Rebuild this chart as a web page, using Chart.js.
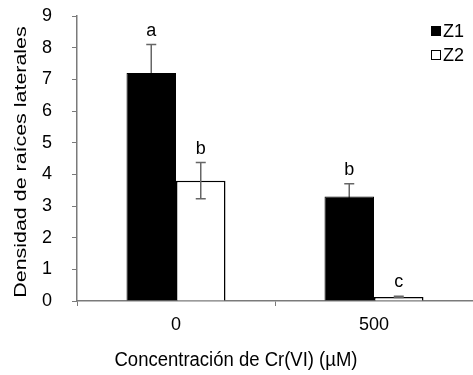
<!DOCTYPE html>
<html>
<head>
<meta charset="utf-8">
<script src="https://cdn.jsdelivr.net/npm/chart.js@4.4.1/dist/chart.umd.min.js"></script>
<style>
  html, body { margin: 0; padding: 0; background: #fff; }
  canvas { display: block; }
</style>
</head>
<body>
<canvas id="myChart" width="473" height="375"></canvas>
<script>
// chart data
const categories = ["0", "500"];
const seriesNames = ["Z1", "Z2"];
const z1Values = [7.2, 3.3];
const z2Values = [3.8, 0.13];
const z1Errors = [0.9, 0.4];
const z2Errors = [0.57, 0.02];
const z1Letters = ["a", "b"];
const z2Letters = ["b", "c"];
const yTicks = [0, 1, 2, 3, 4, 5, 6, 7, 8, 9];
const xTitle = "Concentración de Cr(VI) (µM)";
const yTitle = "Densidad de raíces laterales";

const FONT = "'Liberation Sans', Arial, sans-serif";
const AXIS_COLOR = "#7a7a7a";

// whiskers, letters, legend and axis titles
const errorBarPlugin = {
  id: "errorBars",
  drawErrors(chart, behind) {
    const ctx = chart.ctx;
    const yScale = chart.scales.y;
    chart.data.datasets.forEach((ds, i) => {
      if (!!ds.errBehind !== behind) return;
      const meta = chart.getDatasetMeta(i);
      meta.data.forEach((bar, j) => {
        const v = ds.data[j];
        const e = ds.errors[j];
        const yTop = yScale.getPixelForValue(v + e);
        const yBot = yScale.getPixelForValue(v - e);
        ctx.save();
        ctx.strokeStyle = "#666";
        ctx.lineWidth = 1.5;
        ctx.beginPath();
        ctx.moveTo(bar.x, yTop);
        ctx.lineTo(bar.x, yBot);
        ctx.moveTo(bar.x - 5, yTop);
        ctx.lineTo(bar.x + 5, yTop);
        ctx.moveTo(bar.x - 5, yBot);
        ctx.lineTo(bar.x + 5, yBot);
        ctx.stroke();
        ctx.restore();
      });
    });
  },
  beforeDatasetsDraw(chart) {
    this.drawErrors(chart, true);
  },
  afterDatasetsDraw(chart) {
    this.drawErrors(chart, false);
    const ctx = chart.ctx;
    const yScale = chart.scales.y;
    chart.data.datasets.forEach((ds, i) => {
      const meta = chart.getDatasetMeta(i);
      meta.data.forEach((bar, j) => {
        const yTop = yScale.getPixelForValue(ds.data[j] + ds.errors[j]);
        ctx.save();
        ctx.fillStyle = "#000";
        ctx.font = "18px " + FONT;
        ctx.textAlign = "center";
        ctx.textBaseline = "alphabetic";
        ctx.fillText(ds.letters[j], bar.x, yTop - 9);
        ctx.restore();
      });
    });
  },
  afterDraw(chart) {
    const ctx = chart.ctx;
    // legend
    ctx.save();
    ctx.font = "18px " + FONT;
    ctx.textBaseline = "middle";
    chart.data.datasets.forEach((ds, i) => {
      const y = 31 + i * 24;
      ctx.fillStyle = ds.backgroundColor;
      ctx.fillRect(431.5, y - 4.5, 9, 9);
      ctx.strokeStyle = "#000";
      ctx.lineWidth = 1;
      ctx.strokeRect(431.5, y - 4.5, 9, 9);
      ctx.fillStyle = "#000";
      ctx.fillText(ds.label, 443, y + 1);
    });
    ctx.restore();

    // x title (centred on the page, slightly narrowed)
    ctx.save();
    ctx.fillStyle = "#000";
    ctx.font = "20px " + FONT;
    ctx.textAlign = "center";
    ctx.textBaseline = "alphabetic";
    ctx.translate(236, 366);
    ctx.scale(0.925, 1);
    ctx.fillText(xTitle, 0, 0);
    ctx.restore();

    // y title (rotated, stretched along its length)
    ctx.save();
    ctx.fillStyle = "#000";
    ctx.font = "17px " + FONT;
    ctx.textAlign = "center";
    ctx.textBaseline = "middle";
    ctx.translate(21, 162);
    ctx.rotate(-Math.PI / 2);
    ctx.scale(1.26, 1);
    ctx.fillText(yTitle, 0, 0);
    ctx.restore();
  },
};

const ctx = document.getElementById("myChart").getContext("2d");
const myChart = new Chart(ctx, {
  type: "bar",
  data: {
    labels: categories,
    datasets: [
      {
        label: seriesNames[0],
        data: z1Values,
        errors: z1Errors,
        letters: z1Letters,
        errBehind: true,
        backgroundColor: "#000",
        borderColor: "#000",
        borderWidth: 1,
      },
      {
        label: seriesNames[1],
        data: z2Values,
        errors: z2Errors,
        letters: z2Letters,
        errBehind: false,
        backgroundColor: "#fff",
        borderColor: "#000",
        borderWidth: 1.5,
      },
    ],
  },
  options: {
    responsive: false,
    devicePixelRatio: 1,
    animation: false,
    layout: { padding: { top: 16, right: 0, left: 0, bottom: 0 } },
    plugins: {
      legend: { display: false },
      tooltip: { enabled: false },
    },
    datasets: {
      bar: { categoryPercentage: 0.5, barPercentage: 1.0 },
    },
    scales: {
      x: {
        offset: true,
        border: { display: true, color: AXIS_COLOR, width: 1.5 },
        grid: {
          offset: true,
          drawOnChartArea: false,
          drawTicks: true,
          tickLength: 5,
          color: AXIS_COLOR,
        },
        ticks: {
          color: "#000",
          font: { family: FONT, size: 18 },
          padding: 8,
        },
        afterFit: (scale) => {
          scale.height = 74;
        },
      },
      y: {
        min: 0,
        max: 9,
        afterBuildTicks: (scale) => {
          scale.ticks = yTicks.map((v) => ({ value: v }));
        },
        border: { display: true, color: AXIS_COLOR, width: 1.5 },
        grid: {
          drawOnChartArea: false,
          drawTicks: true,
          tickLength: 5,
          color: AXIS_COLOR,
        },
        ticks: {
          color: "#000",
          font: { family: FONT, size: 18 },
          padding: 20,
        },
        afterFit: (scale) => {
          scale.width = 77;
          // tick padding should not push the plot top down
          scale.paddingTop = 0;
          scale.paddingBottom = 0;
        },
      },
    },
  },
  plugins: [errorBarPlugin],
});
</script>
</body>
</html>
